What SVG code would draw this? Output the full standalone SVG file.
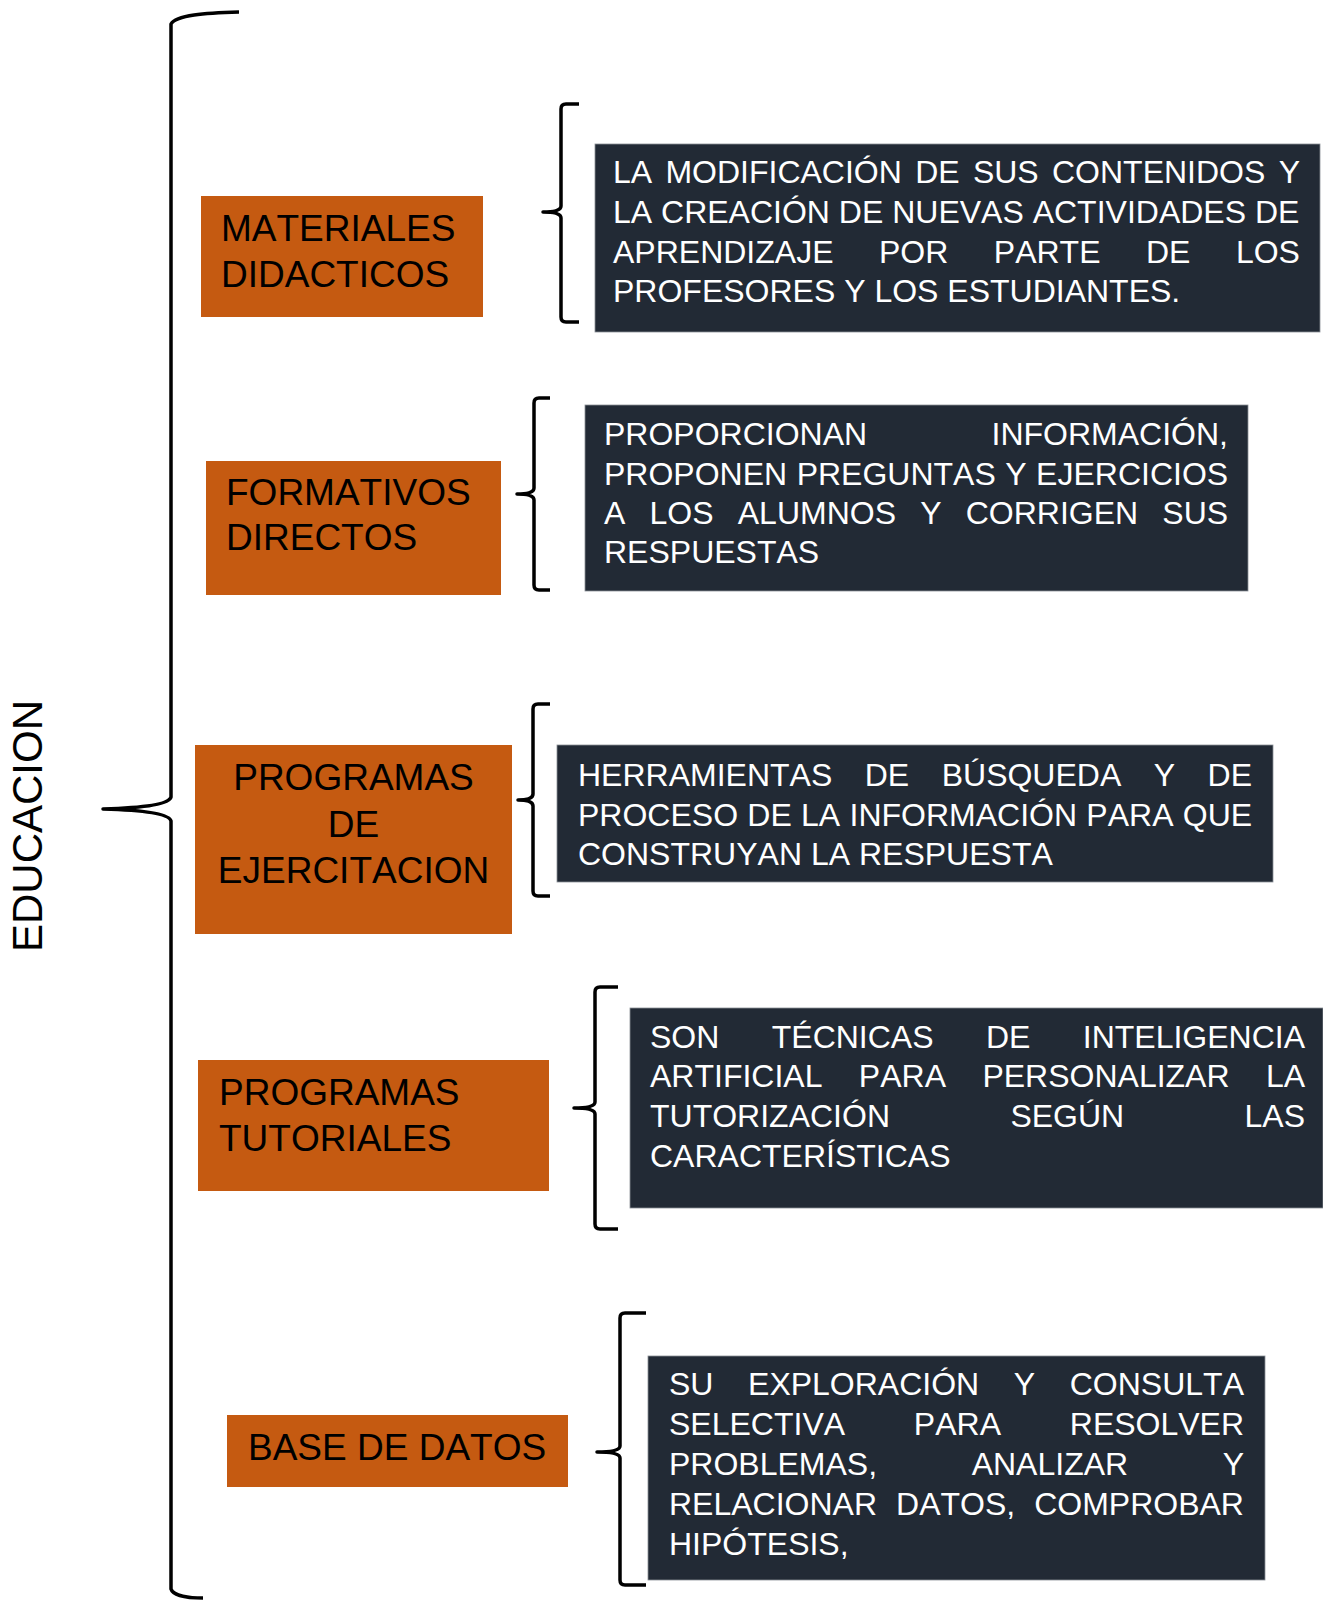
<svg xmlns="http://www.w3.org/2000/svg" width="1323" height="1603" viewBox="0 0 1323 1603">
<style>
.o{fill:#c55a11;}
.d{fill:#222a35;stroke:#8a8f96;stroke-width:0.8;}
.ot{font-family:"Liberation Sans",Arial,sans-serif;font-size:37px;fill:#000;font-kerning:none;}
.dt{font-family:"Liberation Sans",Arial,sans-serif;font-size:32px;fill:#fff;font-kerning:none;}
.br{fill:none;stroke:#000;stroke-width:3.5;stroke-linecap:butt;stroke-linejoin:round;}
</style>
<rect width="1323" height="1603" fill="#fff"/>
<g id="connectors">
<path class="br" d="M239,12 C205,13 176,15 171,24 L171,797 C169,805 140,808 103,809 C140,810 169,813 171,821 L171,1589 C173,1596 190,1598 203,1598"/>
<path class="br" d="M579,104 L566,104 Q561,104 561,109 L561,206 Q561,212 543,212 Q561,212 561,218 L561,317 Q561,322 566,322 L579,322"/>
<path class="br" d="M550,398 L539,398 Q534,398 534,403 L534,488 Q534,494 517,494 Q534,494 534,500 L534,585 Q534,590 539,590 L550,590"/>
<path class="br" d="M550,704 L538,704 Q533,704 533,709 L533,794 Q533,800 518,800 Q533,800 533,806 L533,891 Q533,896 538,896 L550,896"/>
<path class="br" d="M618,987 L600,987 Q595,987 595,992 L595,1102 Q595,1108 574,1108 Q595,1108 595,1114 L595,1224 Q595,1229 600,1229 L618,1229"/>
<path class="br" d="M646,1313 L625,1313 Q620,1313 620,1318 L620,1446 Q620,1452 597,1452 Q620,1452 620,1458 L620,1580 Q620,1585 625,1585 L646,1585"/>
</g>
<g id="educacion">
<text class="ot" style="font-size:42px" transform="translate(42,826) rotate(-90)" text-anchor="middle">EDUCACION</text>
</g>
<g id="materiales">
<rect class="o" x="201" y="196" width="282" height="121"/>
<text class="ot" x="221" y="241">MATERIALES</text>
<text class="ot" x="221" y="287">DIDACTICOS</text>
</g>
<g id="formativos">
<rect class="o" x="206" y="461" width="295" height="134"/>
<text class="ot" x="226" y="505">FORMATIVOS</text>
<text class="ot" x="226" y="550">DIRECTOS</text>
</g>
<g id="ejercitacion">
<rect class="o" x="195" y="745" width="317" height="189"/>
<text class="ot" x="353.5" y="790" text-anchor="middle">PROGRAMAS</text>
<text class="ot" x="353.5" y="837" text-anchor="middle">DE</text>
<text class="ot" x="353.5" y="883" text-anchor="middle">EJERCITACION</text>
</g>
<g id="tutoriales">
<rect class="o" x="198" y="1060" width="351" height="131"/>
<text class="ot" x="219" y="1105">PROGRAMAS</text>
<text class="ot" x="219" y="1151">TUTORIALES</text>
</g>
<g id="basedatos">
<rect class="o" x="227" y="1415" width="341" height="72"/>
<text class="ot" x="248" y="1460">BASE DE DATOS</text>
</g>
<g id="desc1">
<rect class="d" x="595" y="144" width="725" height="188"/>
<text class="dt" x="613" y="183" style="word-spacing:4.4px">LA MODIFICACIÓN DE SUS CONTENIDOS Y</text>
<text class="dt" x="613" y="223">LA CREACIÓN DE NUEVAS ACTIVIDADES DE</text>
<text class="dt" x="613" y="263" style="word-spacing:36.6px">APRENDIZAJE POR PARTE DE LOS</text>
<text class="dt" x="613" y="302">PROFESORES Y LOS ESTUDIANTES.</text>
</g>
<g id="desc2">
<rect class="d" x="585" y="405" width="663" height="186"/>
<text class="dt" x="604" y="445" style="word-spacing:115.5px">PROPORCIONAN INFORMACIÓN,</text>
<text class="dt" x="604" y="485" style="word-spacing:0.6px">PROPONEN PREGUNTAS Y EJERCICIOS</text>
<text class="dt" x="604" y="524" style="word-spacing:15.3px">A LOS ALUMNOS Y CORRIGEN SUS</text>
<text class="dt" x="604" y="563">RESPUESTAS</text>
</g>
<g id="desc3">
<rect class="d" x="557" y="745" width="716" height="137"/>
<text class="dt" x="578" y="786" style="word-spacing:23.6px">HERRAMIENTAS DE BÚSQUEDA Y DE</text>
<text class="dt" x="578" y="826" style="word-spacing:0.4px">PROCESO DE LA INFORMACIÓN PARA QUE</text>
<text class="dt" x="578" y="865">CONSTRUYAN LA RESPUESTA</text>
</g>
<g id="desc4">
<rect class="d" x="630" y="1008" width="693" height="200"/>
<text class="dt" x="650" y="1048" style="word-spacing:43.5px">SON TÉCNICAS DE INTELIGENCIA</text>
<text class="dt" x="650" y="1087" style="word-spacing:27.5px">ARTIFICIAL PARA PERSONALIZAR LA</text>
<text class="dt" x="650" y="1127" style="word-spacing:111.5px">TUTORIZACIÓN SEGÚN LAS</text>
<text class="dt" x="650" y="1167">CARACTERÍSTICAS</text>
</g>
<g id="desc5">
<rect class="d" x="648" y="1356" width="617" height="224"/>
<text class="dt" x="669" y="1395" style="word-spacing:25.7px">SU EXPLORACIÓN Y CONSULTA</text>
<text class="dt" x="669" y="1435" style="word-spacing:59.9px">SELECTIVA PARA RESOLVER</text>
<text class="dt" x="669" y="1475" style="word-spacing:85.7px">PROBLEMAS, ANALIZAR Y</text>
<text class="dt" x="669" y="1515" style="word-spacing:10.1px">RELACIONAR DATOS, COMPROBAR</text>
<text class="dt" x="669" y="1555">HIPÓTESIS,</text>
</g>
</svg>
